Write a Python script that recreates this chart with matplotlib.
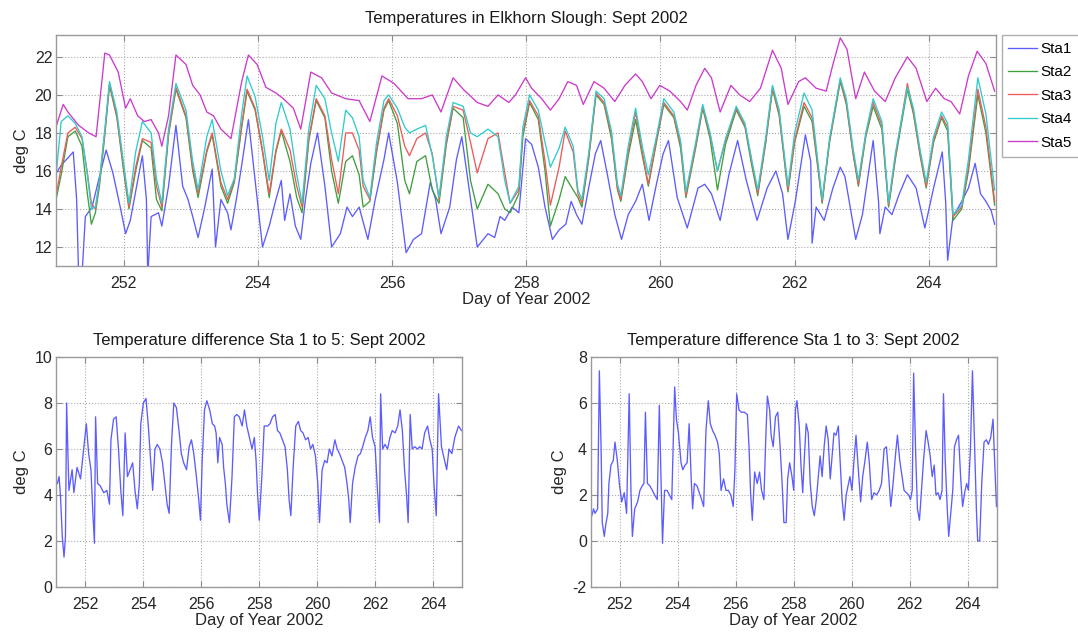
import matplotlib
matplotlib.use('Agg')
import matplotlib.pyplot as plt

plt.rcParams['font.family'] = ['Liberation Sans', 'DejaVu Sans']
plt.rcParams['axes.unicode_minus'] = False

# ---------------- data ----------------
station_labels = ['Sta1', 'Sta2', 'Sta3', 'Sta4', 'Sta5']
xticks_days = [252, 254, 256, 258, 260, 262, 264]

sta1_day = [251.00, 251.07, 251.20, 251.25, 251.30, 251.33, 251.38, 251.43, 251.53, 251.64,
            251.74, 251.84, 251.95, 252.03, 252.10, 252.21, 252.28, 252.34, 252.36, 252.41,
            252.52, 252.57, 252.67, 252.78, 252.88, 252.96, 253.03, 253.11, 253.21, 253.32,
            253.37, 253.45, 253.55, 253.60, 253.68, 253.76, 253.86, 253.96, 254.07, 254.17,
            254.27, 254.35, 254.40, 254.48, 254.56, 254.64, 254.71, 254.79, 254.89, 255.00,
            255.10, 255.23, 255.33, 255.41, 255.51, 255.64, 255.75, 255.88, 255.95, 256.08,
            256.21, 256.32, 256.44, 256.57, 256.65, 256.73, 256.86, 256.96, 257.04, 257.17,
            257.27, 257.43, 257.53, 257.61, 257.68, 257.79, 257.89, 257.99,
            258.08, 258.18, 258.28, 258.39, 258.49, 258.59, 258.67, 258.75, 258.83, 258.93,
            259.03, 259.11, 259.21, 259.32, 259.42, 259.52, 259.63, 259.73, 259.83, 259.94,
            260.04, 260.12, 260.25, 260.40, 260.56, 260.66, 260.76, 260.89, 261.02, 261.15,
            261.28, 261.44, 261.59, 261.72, 261.82, 261.90, 262.01, 262.16, 262.24, 262.26,
            262.32, 262.44, 262.57, 262.68, 262.75, 262.91, 263.01, 263.17, 263.25, 263.27,
            263.35, 263.45, 263.56, 263.68, 263.81, 263.94, 264.07, 264.20, 264.25, 264.28,
            264.36, 264.49, 264.59, 264.69, 264.77, 264.85, 264.93, 264.98]
sta1 = [15.9, 16.3, 16.8, 17.0, 14.5, 10.5, 10.5, 13.6, 14.1, 15.7,
        17.1, 15.9, 14.1, 12.7, 13.4, 15.5, 16.8, 14.5, 10.5, 13.6,
        13.8, 13.1, 15.2, 18.4, 15.2, 14.5, 13.6, 12.5, 14.1, 16.1,
        12.0, 14.5, 13.8, 12.9, 14.5, 16.3, 18.7, 15.5, 12.0, 13.1,
        14.5, 15.5, 13.4, 14.8, 13.1, 12.4, 14.5, 16.4, 18.0, 15.2,
        12.0, 12.7, 14.1, 13.6, 14.1, 12.4, 14.5, 16.6, 18.0, 15.4,
        11.7, 12.4, 12.7, 15.4, 14.5, 12.7, 14.1, 16.6, 17.8, 14.5,
        12.0, 12.7, 12.5, 13.6, 13.4, 14.1, 13.8, 17.7,
        17.4, 16.2, 14.1, 12.4, 12.9, 13.2, 14.4, 13.7, 13.2, 15.1,
        16.9, 17.6, 15.8, 13.7, 12.4, 13.7, 14.4, 15.3, 13.4, 15.3,
        16.9, 17.6, 14.6, 13.0, 15.1, 15.3, 14.8, 13.4, 15.8, 17.6,
        15.5, 13.4, 15.1, 16.0, 14.8, 12.4, 14.4, 17.9, 16.5, 12.2,
        14.1, 13.4, 15.1, 16.2, 15.7, 12.4, 13.7, 17.6, 14.4, 12.7,
        14.1, 13.7, 14.8, 15.8, 15.1, 13.0, 15.1, 17.0, 14.4, 11.3,
        13.6, 14.4, 15.1, 16.4, 14.8, 14.4, 13.9, 13.2]

band_day = [251.00, 251.07, 251.17, 251.28, 251.38, 251.46, 251.52, 251.58, 251.64, 251.72,
            251.79, 251.90, 252.00, 252.08, 252.18, 252.28, 252.41, 252.49, 252.57, 252.67,
            252.78, 252.93, 253.03, 253.11, 253.24, 253.32, 253.45, 253.55, 253.65, 253.76,
            253.84, 253.96, 254.07, 254.17, 254.27, 254.35, 254.48, 254.58, 254.66, 254.76,
            254.87, 255.00, 255.10, 255.20, 255.31, 255.41, 255.51, 255.57, 255.67, 255.77,
            255.88, 255.95, 256.08, 256.19, 256.26, 256.37, 256.50, 256.60, 256.70, 256.81,
            256.91, 257.06, 257.17, 257.27, 257.43, 257.58, 257.68, 257.76, 257.89, 257.95,
            258.05, 258.18, 258.28, 258.36, 258.49, 258.58, 258.70, 258.77, 258.83, 258.93,
            259.04, 259.16, 259.27, 259.36, 259.41, 259.52, 259.63, 259.73, 259.82, 259.94,
            260.05, 260.20, 260.30, 260.38, 260.53, 260.63, 260.74, 260.85, 260.97, 261.13,
            261.26, 261.36, 261.45, 261.57, 261.67, 261.77, 261.90, 262.00, 262.14, 262.26,
            262.41, 262.52, 262.68, 262.77, 262.87, 262.95, 263.06, 263.17, 263.30, 263.40,
            263.50, 263.68, 263.77, 263.87, 263.96, 264.07, 264.19, 264.28, 264.36, 264.49,
            264.59, 264.73, 264.85, 264.98]
sta2 = [14.6, 15.8, 17.8, 18.1, 17.3, 14.8, 13.2, 13.8, 15.2, 17.9,
        20.5, 18.8, 16.0, 14.0, 16.0, 17.6, 17.2, 14.5, 13.9, 17.9,
        20.3, 18.8, 16.0, 14.6, 17.0, 17.9, 15.2, 14.3, 15.4, 18.3,
        20.2, 19.2, 17.0, 14.6, 17.0, 18.1, 16.5, 14.6, 13.8, 17.6,
        19.7, 18.8, 16.0, 14.3, 16.5, 16.8, 15.8, 14.1, 14.4, 17.0,
        19.2, 19.7, 18.5, 15.5, 14.8, 16.5, 16.8, 15.0, 14.3, 17.4,
        19.3, 18.8, 15.5, 14.0, 15.3, 14.8, 14.0, 13.8, 14.8, 17.8,
        19.6, 18.7, 16.0, 13.1, 14.5, 15.7, 15.0, 14.6, 14.1, 16.6,
        20.0, 19.5, 17.7, 15.0, 14.4, 16.8, 18.7, 16.8, 15.2, 17.5,
        19.5, 18.8, 17.2, 14.6, 17.3, 19.3, 17.7, 15.0, 17.4, 19.2,
        18.3, 16.3, 14.7, 17.5, 20.3, 18.9, 14.9, 17.5, 19.4, 18.6,
        14.3, 17.5, 20.7, 19.5, 16.9, 15.2, 17.8, 19.4, 18.2, 14.1,
        16.6, 20.3, 19.0, 16.8, 15.1, 17.5, 18.8, 18.1, 13.4, 14.0,
        16.0, 20.0, 18.0, 14.2]
sta3 = [14.8, 16.2, 18.0, 18.3, 17.7, 15.9, 14.3, 14.0, 15.4, 18.0,
        20.6, 18.9, 16.2, 14.1, 16.2, 17.7, 17.5, 15.2, 14.1, 18.0,
        20.4, 18.9, 16.2, 14.8, 17.1, 18.0, 15.4, 14.5, 15.5, 18.4,
        20.3, 19.3, 17.1, 14.8, 17.1, 18.2, 17.1, 15.2, 14.1, 17.7,
        19.8, 18.9, 16.6, 14.8, 18.0, 18.0, 17.1, 15.2, 14.5, 17.1,
        19.3, 19.8, 18.9, 17.3, 16.8, 17.7, 18.0, 16.9, 14.5, 17.5,
        19.4, 19.2, 17.5, 15.9, 17.7, 18.0, 15.9, 14.3, 15.0, 18.0,
        19.7, 18.9, 16.5, 14.2, 16.2, 18.1, 17.0, 14.8, 14.3, 16.7,
        20.1, 19.6, 17.9, 15.1, 14.5, 17.0, 19.1, 17.0, 15.3, 17.6,
        19.6, 18.9, 17.4, 14.7, 17.4, 19.4, 17.9, 16.0, 17.6, 19.3,
        18.4, 16.5, 14.8, 17.6, 20.4, 19.0, 15.0, 17.6, 19.6, 18.8,
        14.4, 17.6, 20.8, 19.6, 17.0, 15.3, 17.9, 19.6, 18.4, 14.2,
        16.7, 20.6, 19.1, 16.9, 15.2, 17.6, 18.9, 18.3, 13.6, 14.1,
        16.2, 20.3, 18.3, 14.4]
sta4 = [16.0, 18.6, 18.9, 18.5, 17.8, 15.8, 14.0, 14.1, 15.5, 18.2,
        20.7, 19.1, 16.4, 14.3, 17.0, 18.6, 18.0, 15.6, 14.3, 18.2,
        20.6, 19.2, 16.5, 15.0, 17.8, 18.7, 16.0, 14.7, 15.6, 19.0,
        21.0, 19.9, 17.8, 15.5, 18.5, 19.6, 18.2, 15.8, 14.3, 18.2,
        20.5, 19.8, 18.0, 16.5, 19.2, 18.8, 17.8, 15.5, 14.6, 17.5,
        19.7, 20.0, 19.3, 18.3, 18.0, 18.2, 18.4, 16.8, 14.6, 17.8,
        19.6, 19.4, 18.0, 17.8, 18.2, 17.8, 15.5, 14.3, 15.2, 18.3,
        20.0, 19.2, 17.5, 16.2, 17.2, 18.3, 17.3, 15.0, 14.5, 16.9,
        20.2, 19.8, 18.1, 15.3, 14.7, 17.3, 19.3, 17.3, 15.8, 17.8,
        19.8, 19.1, 17.6, 14.9, 17.6, 19.5, 18.0, 16.0, 17.7, 19.4,
        18.5, 16.6, 15.0, 17.8, 20.5, 19.2, 15.2, 18.0, 20.1, 19.2,
        14.5, 17.7, 20.9, 19.8, 17.2, 15.5, 18.0, 19.8, 18.6, 14.3,
        16.9, 20.4, 19.3, 17.1, 15.4, 17.8, 19.1, 18.5, 13.7, 14.2,
        16.6, 20.9, 19.0, 15.0]

sta5_day = [251.00, 251.10, 251.17, 251.33, 251.48, 251.59, 251.72, 251.79, 251.92, 252.03,
            252.10, 252.21, 252.31, 252.41, 252.52, 252.57, 252.67, 252.78, 252.93, 253.03,
            253.14, 253.24, 253.34, 253.45, 253.60, 253.76, 253.86, 253.99, 254.12, 254.27,
            254.38, 254.53, 254.64, 254.79, 254.95, 255.10, 255.31, 255.51, 255.67, 255.85,
            256.03, 256.24, 256.44, 256.60, 256.73, 256.91, 257.06, 257.27, 257.43, 257.58,
            257.74, 257.84, 257.99,
            258.08, 258.23, 258.36, 258.49, 258.62, 258.75, 258.85, 259.01, 259.16, 259.32,
            259.47, 259.63, 259.73, 259.86, 259.99, 260.14, 260.30, 260.40, 260.53, 260.66,
            260.76, 260.89, 261.05, 261.18, 261.33, 261.49, 261.67, 261.80, 261.90, 262.06,
            262.16, 262.32, 262.47, 262.57, 262.68, 262.78, 262.91, 263.04, 263.19, 263.35,
            263.50, 263.68, 263.81, 263.97, 264.10, 264.23, 264.33, 264.46, 264.59, 264.72,
            264.85, 264.98]
sta5 = [18.4, 19.5, 19.1, 18.4, 18.0, 17.8, 22.2, 22.1, 21.2, 19.3,
        19.8, 18.9, 18.6, 18.7, 18.0, 17.3, 18.9, 22.1, 21.6, 20.5,
        20.0, 19.1, 18.9, 18.2, 17.7, 20.7, 22.1, 21.6, 20.4, 20.1,
        19.8, 19.3, 18.2, 21.2, 20.9, 20.1, 19.8, 19.7, 18.6, 21.0,
        20.6, 19.8, 19.8, 20.0, 19.1, 20.9, 20.3, 19.6, 19.4, 20.0,
        19.6, 20.0, 20.9,
        20.35, 19.8, 19.2, 19.8, 20.7, 20.5, 19.5, 20.7, 20.35, 19.65,
        20.5, 21.1, 20.7, 19.8, 20.5, 20.2, 19.65, 19.2, 20.5, 21.4,
        20.9, 19.1, 20.5, 20.0, 19.65, 20.35, 22.35, 21.4, 19.5, 20.7,
        20.9, 20.35, 20.2, 21.6, 23.0, 22.4, 19.8, 21.2, 20.2, 19.65,
        20.9, 22.0, 21.4, 19.65, 20.35, 19.8, 19.65, 19.0, 21.0, 22.3,
        21.65, 20.2]

diff15_day = [251.03, 251.09, 251.14, 251.20, 251.26, 251.31, 251.35, 251.39, 251.43, 251.54,
              251.60, 251.71, 251.83, 251.94, 252.03, 252.11, 252.19, 252.26, 252.31, 252.35,
              252.42, 252.51, 252.63, 252.74, 252.83, 252.88, 252.97, 253.06, 253.14, 253.22,
              253.29, 253.37, 253.45, 253.54, 253.63, 253.71, 253.79, 253.86, 253.91, 254.00,
              254.09, 254.17, 254.25, 254.32, 254.40, 254.48, 254.57, 254.66, 254.74, 254.82,
              254.89, 254.97, 255.05, 255.14, 255.23, 255.31, 255.39, 255.49, 255.58, 255.66,
              255.74, 255.83, 255.91, 255.97, 256.03, 256.11, 256.19, 256.29, 256.38, 256.46,
              256.51, 256.57, 256.63, 256.72, 256.77, 256.83, 256.88, 256.97, 257.06, 257.14,
              257.22, 257.31, 257.41, 257.49, 257.57, 257.66, 257.75, 257.83, 257.89, 257.94,
              258.00, 258.09, 258.17, 258.29, 258.37, 258.46, 258.55, 258.63, 258.71, 258.80,
              258.89, 258.97, 259.03, 259.09, 259.17, 259.26, 259.35, 259.43, 259.51, 259.60,
              259.69, 259.77, 259.85, 259.94, 260.02, 260.08, 260.17, 260.26, 260.34, 260.42,
              260.51, 260.61, 260.69, 260.77, 260.86, 260.95, 261.03, 261.09, 261.14, 261.22,
              261.31, 261.41, 261.49, 261.57, 261.66, 261.75, 261.83, 261.91, 262.00, 262.08,
              262.15, 262.19, 262.26, 262.34, 262.43, 262.51, 262.59, 262.69, 262.78, 262.86,
              262.94, 263.01, 263.09, 263.14, 263.21, 263.28, 263.37, 263.46, 263.54, 263.62,
              263.71, 263.81, 263.89, 263.97, 264.03, 264.11, 264.19, 264.29, 264.40, 264.47,
              264.55, 264.65, 264.75, 264.88, 264.98]
diff15 = [4.5, 4.8, 3.9, 2.2, 1.3, 2.2, 8.0, 6.0, 4.2, 5.1,
          4.1, 5.2, 4.7, 6.0, 7.1, 5.8, 5.1, 3.1, 1.9, 7.4,
          4.5, 4.4, 4.1, 4.2, 3.6, 6.4, 7.3, 7.4, 6.0, 4.2,
          3.1, 6.7, 4.8, 5.1, 5.4, 4.2, 3.4, 4.5, 7.1, 8.0,
          8.2, 7.0, 5.5, 4.2, 6.0, 6.2, 6.0, 5.4, 4.5, 3.6,
          3.2, 6.2, 8.0, 7.8, 6.8, 5.8, 5.4, 5.1, 6.1, 6.4,
          5.8, 4.8, 3.8, 2.9, 5.5, 7.7, 8.1, 7.7, 7.1, 7.0,
          6.7, 5.4, 6.5, 6.2, 5.2, 4.5, 3.6, 2.8, 4.8, 7.4,
          7.5, 7.4, 7.0, 7.7, 7.0, 6.5, 6.0, 6.5, 5.5, 4.1,
          2.9, 4.8, 7.0, 7.0, 7.1, 7.4, 7.5, 6.8, 6.7, 6.4,
          6.1, 5.1, 3.8, 3.1, 5.2, 7.0, 7.2, 6.8, 6.7, 6.4,
          6.5, 6.0, 6.2, 5.7, 4.5, 2.8, 5.1, 5.5, 5.4, 6.0,
          5.7, 6.4, 6.0, 5.8, 5.5, 5.2, 4.5, 3.8, 2.8, 4.5,
          5.2, 5.7, 5.8, 6.1, 6.5, 6.8, 7.4, 6.5, 6.1, 4.2,
          2.8, 8.4, 6.0, 6.2, 6.0, 6.5, 6.8, 6.7, 7.0, 7.7,
          6.8, 5.2, 3.9, 2.8, 7.5, 6.0, 6.1, 6.0, 6.1, 6.0,
          6.7, 7.0, 6.4, 6.0, 4.5, 3.1, 8.4, 6.1, 5.5, 5.1,
          6.0, 5.8, 6.5, 7.0, 6.8]

diff13_day = [251.03, 251.09, 251.14, 251.23, 251.29, 251.35, 251.39, 251.46, 251.51, 251.58,
              251.62, 251.69, 251.77, 251.83, 251.91, 251.98, 252.06, 252.15, 252.23, 252.32,
              252.38, 252.43, 252.51, 252.61, 252.69, 252.77, 252.83, 252.88, 252.95, 253.03,
              253.12, 253.20, 253.29, 253.36, 253.43, 253.47, 253.54, 253.63, 253.71, 253.79,
              253.89, 253.95, 254.02, 254.11, 254.17, 254.25, 254.32, 254.39, 254.46, 254.51,
              254.57, 254.66, 254.74, 254.82, 254.89, 254.97, 255.05, 255.12, 255.20, 255.28,
              255.37, 255.43, 255.49, 255.58, 255.66, 255.74, 255.83, 255.91, 255.97, 256.03,
              256.11, 256.19, 256.29, 256.40, 256.46, 256.51, 256.57, 256.65, 256.74, 256.82,
              256.89, 256.97, 257.03, 257.09, 257.17, 257.22, 257.29, 257.37, 257.45, 257.52,
              257.60, 257.66, 257.74, 257.79, 257.86, 257.94, 258.00, 258.06, 258.11, 258.19,
              258.25, 258.31, 258.37, 258.43, 258.50, 258.57, 258.64, 258.71, 258.78, 258.86,
              258.91, 258.98, 259.05, 259.12, 259.19, 259.26, 259.33, 259.39, 259.46, 259.54,
              259.60, 259.67, 259.74, 259.81, 259.89, 259.94, 260.01, 260.08, 260.15, 260.23,
              260.31, 260.38, 260.46, 260.54, 260.61, 260.69, 260.77, 260.86, 260.95, 261.03,
              261.12, 261.20, 261.28, 261.35, 261.43, 261.51, 261.58, 261.66, 261.74, 261.81,
              261.89, 261.97, 262.03, 262.09, 262.14, 262.21, 262.27, 262.34, 262.41, 262.48,
              262.57, 262.64, 262.71, 262.78, 262.85, 262.91, 262.98, 263.05, 263.12, 263.17,
              263.23, 263.30, 263.35, 263.42, 263.49, 263.55, 263.62, 263.69, 263.76, 263.83,
              263.90, 263.97, 264.03, 264.10, 264.17, 264.24, 264.31, 264.35, 264.42, 264.49,
              264.57, 264.65, 264.72, 264.80, 264.88, 264.95, 265.00]
diff13 = [1.1, 1.4, 1.2, 1.4, 7.4, 4.0, 0.8, 0.2, 0.7, 1.2,
          2.5, 3.3, 3.5, 4.3, 3.5, 2.5, 1.7, 2.1, 1.2, 6.4,
          2.2, 0.2, 1.4, 1.7, 2.2, 2.4, 2.5, 5.6, 2.5, 2.4,
          2.2, 2.0, 1.8, 5.9, 2.2, -0.1, 2.2, 2.2, 2.0, 1.8,
          6.7, 5.3, 4.7, 3.4, 3.1, 3.3, 3.4, 5.1, 2.7, 1.4,
          2.5, 2.4, 2.1, 1.8, 1.5, 4.8, 6.1, 5.1, 4.8, 4.6,
          4.3, 3.8, 2.2, 2.7, 2.2, 2.2, 2.0, 1.5, 3.1, 6.4,
          5.7, 5.6, 5.6, 5.5, 4.0, 2.1, 0.9, 3.0, 2.5, 3.0,
          2.2, 1.8, 4.3, 6.3, 5.7, 4.6, 4.1, 5.4, 5.6, 4.3,
          2.5, 0.8, 0.8, 2.7, 3.4, 2.8, 2.2, 5.7, 6.1, 5.0,
          3.3, 2.1, 3.7, 5.1, 4.7, 2.5, 1.5, 1.1, 1.8, 3.0,
          3.7, 2.8, 4.1, 5.0, 4.4, 2.7, 3.8, 4.7, 4.6, 5.0,
          3.5, 1.8, 0.9, 2.0, 2.5, 2.8, 2.2, 3.5, 4.6, 3.1,
          1.7, 2.8, 3.5, 4.3, 3.4, 1.8, 2.1, 2.0, 2.2, 2.5,
          4.0, 4.1, 2.8, 1.5, 2.5, 3.7, 4.6, 3.5, 2.8, 2.2,
          2.1, 2.0, 1.8, 2.2, 7.3, 3.8, 1.4, 0.9, 2.2, 3.5,
          4.8, 4.3, 3.7, 2.8, 3.3, 2.0, 2.1, 1.8, 2.2, 6.4,
          3.5, 1.4, 0.2, 1.2, 2.2, 4.1, 4.4, 4.6, 2.8, 1.5,
          2.1, 2.5, 2.2, 4.0, 7.4, 4.3, 1.2, 0.0, 0.0, 2.5,
          4.3, 4.4, 4.2, 4.5, 5.3, 3.0, 1.5]

# ---------------- styling ----------------
colors = {'Sta1': '#5c5cff', 'Sta2': '#3f9f3f', 'Sta3': '#ee5a5a',
          'Sta4': '#30cccc', 'Sta5': '#cc3acc'}
FS = 12
TFS = 11.5


def style(ax):
    ax.set_facecolor('white')
    ax.grid(True, linestyle=':', color='#aaaaaa', linewidth=0.8)
    ax.tick_params(direction='in', top=True, right=True, length=4, width=0.8,
                   color='#8c8c8c', labelcolor='#262626', labelsize=TFS, pad=7)
    ax.tick_params(axis='y', pad=3)
    for s in ax.spines.values():
        s.set_color('#9a9a9a')
        s.set_linewidth(1.0)
    ax.set_xlim(251, 265)
    ax.set_xticks(xticks_days)
    ax.set_xlabel('Day of Year 2002', fontsize=FS, color='#262626', labelpad=1)
    ax.set_ylabel('deg C', fontsize=FS, color='#262626', labelpad=4)


fig = plt.figure(figsize=(10.78, 6.32), dpi=100)
fig.patch.set_facecolor('white')

# top panel
ax1 = fig.add_axes([0.0524, 0.5791, 0.8715, 0.3655])
series = [(sta1_day, sta1), (band_day, sta2), (band_day, sta3), (band_day, sta4), (sta5_day, sta5)]
for lab, (d, v) in zip(station_labels, series):
    ax1.plot(d, v, color=colors[lab], linewidth=0.95, label=lab)
style(ax1)
ax1.set_ylim(11.0, 23.15)
ax1.set_yticks([12, 14, 16, 18, 20, 22])
ax1.set_title('Temperatures in Elkhorn Slough: Sept 2002', fontsize=FS, pad=9, color='#1a1a1a')
leg = ax1.legend(loc='upper left', bbox_to_anchor=(1.006, 1.0), borderaxespad=0,
                 frameon=True, fancybox=False, fontsize=11, handlelength=1.85,
                 handletextpad=0.25, labelspacing=0.62, borderpad=0.45)
leg.get_frame().set_edgecolor('#9a9a9a')
leg.get_frame().set_linewidth(1.0)

# bottom-left panel
ax2 = fig.add_axes([0.0524, 0.0712, 0.3762, 0.3639])
ax2.plot(diff15_day, diff15, color=colors['Sta1'], linewidth=0.95)
style(ax2)
ax2.set_ylim(0, 10)
ax2.set_yticks([0, 2, 4, 6, 8, 10])
ax2.set_title('Temperature difference Sta 1 to 5: Sept 2002', fontsize=FS, pad=9, color='#1a1a1a')

# bottom-right panel
ax3 = fig.add_axes([0.5482, 0.0712, 0.3762, 0.3639])
ax3.plot(diff13_day, diff13, color=colors['Sta1'], linewidth=0.95)
style(ax3)
ax3.set_ylim(-2, 8)
ax3.set_yticks([-2, 0, 2, 4, 6, 8])
ax3.set_title('Temperature difference Sta 1 to 3: Sept 2002', fontsize=FS, pad=9, color='#1a1a1a')

fig.savefig('out.png', dpi=100, facecolor='white')
